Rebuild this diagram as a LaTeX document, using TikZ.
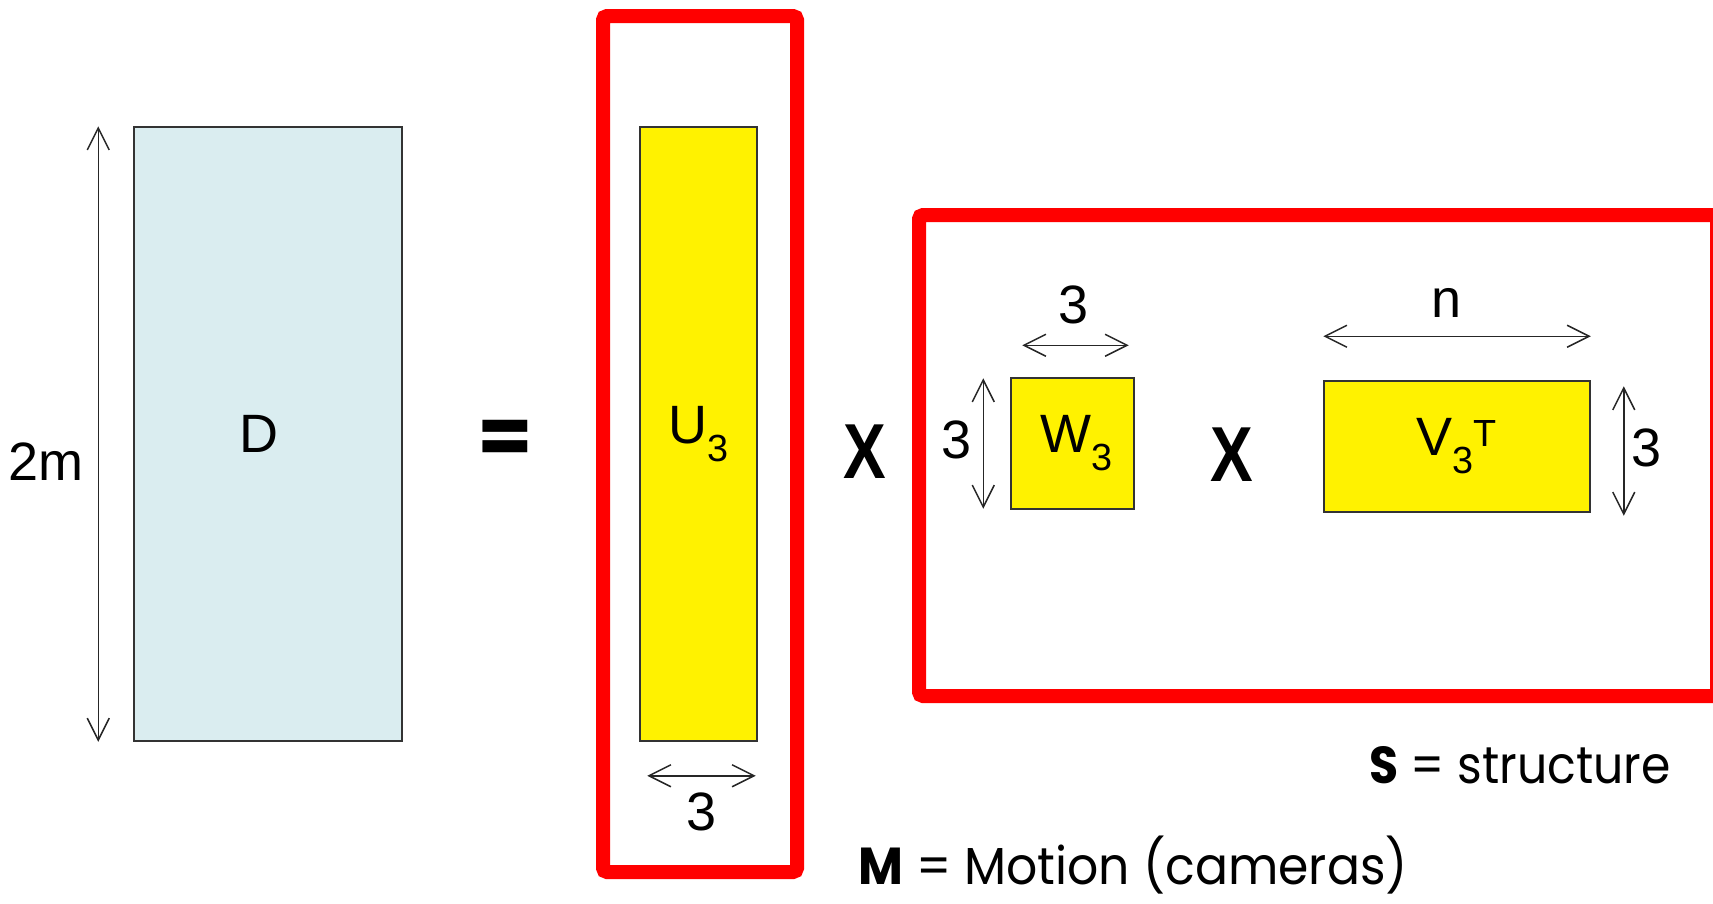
\documentclass[tikz,border=0pt]{standalone}
\usepackage{fontspec}
\setmainfont{Liberation Sans}
\newfontfamily\capfont{Poppins}
\usetikzlibrary{arrows.meta,positioning}

\definecolor{dpale}{RGB}{218,237,240}
\definecolor{framered}{RGB}{255,0,0}

\tikzset{
  mat/.style={draw=black!80, line width=1.5pt, inner sep=0pt},
  dim/.style={draw=black!85, line width=1.5pt,
    {Straight Barb[length=22pt,width=22pt]}-{Straight Barb[length=22pt,width=22pt]}},
  lbl/.style={font=\fontsize{54}{60}\selectfont, inner sep=0pt},
  redbox/.style={draw=framered, line width=14pt, rounded corners=4pt},
  opsym/.style={font=\capfont\bfseries\fontsize{80}{90}\selectfont, inner sep=0pt},
  timessym/.style={font=\bfseries\fontsize{78}{90}\selectfont, inner sep=0pt},
  captxt/.style={font=\capfont\fontsize{52}{60}\selectfont, inner sep=0pt}
}

\begin{document}
\begin{tikzpicture}[x=1pt, y=-1pt]
\clip (0,0) rectangle (1713,903);

% the factor boxes
\draw[redbox] (603,16) rectangle (797,872);
\draw[redbox] (919,215) rectangle (1717,696);

% matrices
\node[mat, fill=dpale, minimum width=268pt, minimum height=614pt, lbl] (D) at (268,434) {\hspace*{-18pt}D};
\node[mat, fill=yellow, minimum width=117pt, minimum height=614pt, lbl] (U) at (698.5,434) {U\textsubscript{3}};
\node[mat, fill=yellow, minimum width=123pt, minimum height=131pt, lbl] (W) at (1072.5,443.5) {\hspace*{8pt}W\textsubscript{3}};
\node[mat, fill=yellow, minimum width=266pt, minimum height=131pt, lbl] (V) at (1457,446.5) {V\textsubscript{3}\textsuperscript{T}};

% operators
\node[opsym] (eq) at (505,442) {=};
\node[timessym] (times1) at (865,452) {\scalebox{0.82}[1]{X}};
\node[timessym] (times2) at (1232,455) {\scalebox{0.82}[1]{X}};

% dimensions
\draw[dim] ([xshift=-35pt]D.north west) -- ([xshift=-35pt]D.south west);
\node[lbl] (dD) at (46,462) {2m};
\draw[dim] ([shift={(8,34)}]U.south west) -- ([shift={(-2,34)}]U.south east);
\node[lbl] (dU) at (702,812) {3};
\draw[dim] ([shift={(12,-32)}]W.north west) -- ([shift={(-6,-32)}]W.north east);
\node[lbl] (dWw) at (1074,305) {3};
\draw[dim] ([shift={(-27,1)}]W.north west) -- ([shift={(-27,-1)}]W.south west);
\node[lbl] (dWh) at (957,440) {3};
\draw[dim] ([shift={(0,-44)}]V.north west) -- ([shift={(0,-44)}]V.north east);
\node[lbl] (dVw) at (1446,303) {n};
\draw[dim] ([shift={(33,6)}]V.north east) -- ([shift={(33,3)}]V.south east);
\node[lbl] (dVh) at (1646.5,448) {3};

% captions
\node[captxt, anchor=base west] (scap) at (1369,783) {\scalebox{0.91}[1]{\textbf{S} = structure}};
\node[captxt, anchor=base west] (mcap) at (858,884) {\scalebox{0.94}[1]{\textbf{M} = Motion (cameras)}};
\end{tikzpicture}
\end{document}
